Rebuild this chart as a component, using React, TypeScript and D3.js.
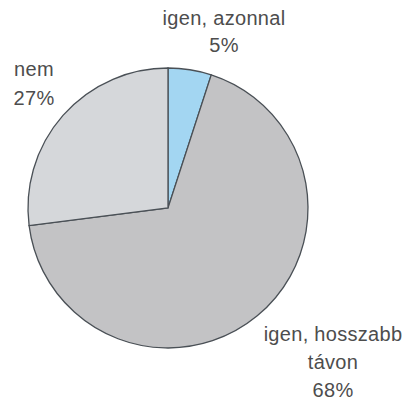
import React from "react";
import * as d3 from "d3";

const categories = ["igen, azonnal", "igen, hosszabb távon", "nem"];
const values = [5, 68, 27];
const colors = ["#a3d6f2", "#c3c3c5", "#d5d7da"];
const labelLines = [
  ["igen, azonnal", "5%"],
  ["igen, hosszabb", "távon", "68%"],
  ["nem", "27%"],
];

export default function App() {
  const width = 412;
  const height = 401;
  const cx = 168;
  const cy = 208;
  const r = 140;
  const pie = d3.pie<number>().sort(null).value((d) => d);
  const arcs = pie(values);
  const arc = d3.arc<d3.PieArcDatum<number>>().innerRadius(0).outerRadius(r);
  const labelPos = [
    { x: 224, y: 25, lh: 27 },
    { x: 333, y: 341, lh: 28 },
    { x: 34, y: 76, lh: 29 },
  ];
  return (
    <svg width={width} height={height} style={{ position: "absolute", left: 0, top: 0 }}>
      <rect width={width} height={height} fill="#ffffff" />
      <g transform={`translate(${cx},${cy})`}>
        {arcs.map((a, i) => (
          <path key={categories[i]} d={arc(a) || ""} fill={colors[i]} stroke="#4a5056" strokeWidth={1.3} />
        ))}
      </g>
      {labelLines.map((lines, i) => (
        <text
          key={categories[i]}
          x={labelPos[i].x}
          y={labelPos[i].y}
          textAnchor="middle"
          fontFamily="Liberation Sans, Arial, sans-serif"
          fontSize={20}
          letterSpacing={0.3}
          fill="#4d4d4d"
        >
          {lines.map((l, j) => (
            <tspan key={j} x={labelPos[i].x} y={labelPos[i].y + j * labelPos[i].lh}>
              {l}
            </tspan>
          ))}
        </text>
      ))}
    </svg>
  );
}
